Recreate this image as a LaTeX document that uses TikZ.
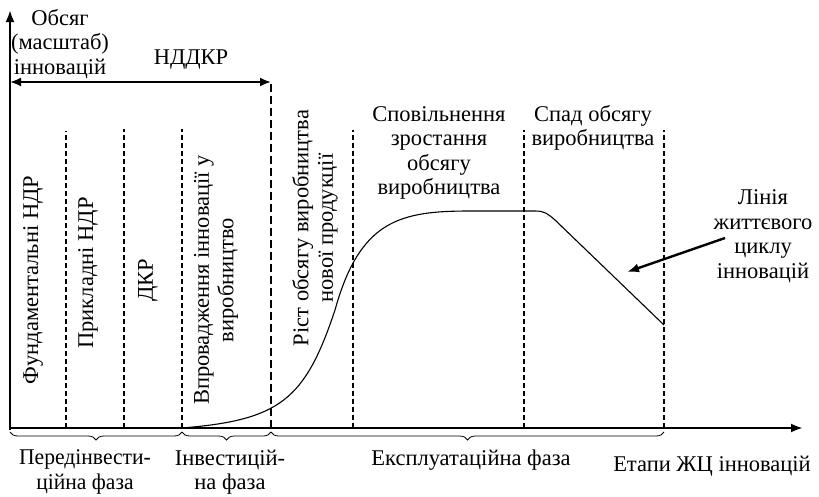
\documentclass[tikz,border=0pt]{standalone}
\usepackage{fontspec}
\setmainfont{Liberation Serif}
\usetikzlibrary{arrows.meta,decorations.pathreplacing}

\begin{document}
\begin{tikzpicture}[x=1pt,y=-1pt,
    axis/.style={line width=2.6pt,-{Latex[length=12pt,width=9pt]}},
    stage/.style={line width=1.5pt,dash pattern=on 5pt off 3pt},
    txt/.style={font=\fontsize{22.5}{24.5}\selectfont,align=center,inner sep=0pt},
    vtxt/.style={txt,rotate=90},
    phase/.style={decorate,decoration={brace,mirror,amplitude=8pt},line width=0.8pt}]
    \useasboundingbox (0,0) rectangle (819,496);

    % Define the points of the axes
    \coordinate (O) at (10,428);
    \coordinate (Y) at (10,10);
    \coordinate (X) at (803,428);

    % Stage boundaries on the time axis
    \coordinate (A) at (66,428);
    \coordinate (B) at (124,428);
    \coordinate (C) at (182,428);
    \coordinate (D) at (271,428);
    \coordinate (E) at (353,428);
    \coordinate (F) at (524,428);
    \coordinate (G) at (664,428);

    % Draw the stage boundaries
    \draw[stage] (A) -- (66,131);
    \draw[stage] (B) -- (124,129);
    \draw[stage] (C) -- (182,129);
    \draw[stage,dash pattern=on 8pt off 4pt] (D) -- (271,82);
    \draw[stage] (E) -- (353,130);
    \draw[stage] (F) -- (524,130);
    \draw[stage] (G) -- (664,130);

    % Draw the axes
    \draw[axis] (10,430) -- (Y);
    \draw[axis] (O) -- (X);

    % R&D span
    \coordinate (R1) at (10,82);
    \coordinate (R2) at (271,82);
    \draw[line width=2pt,{Latex[length=11pt,width=9pt]}-{Latex[length=11pt,width=9pt]}] (R1) -- (R2);
    \node[txt] (rd) at (191,60) {НДДКР};

    % Axis labels
    \node[txt] (vol) at (60,44) {Обсяг\\(масштаб)\\інновацій};
    \node[txt] (stg) at (712,466) {Етапи ЖЦ інновацій};

    % Life cycle curve
    \draw[line width=1.1pt] (C) .. controls (280,420) and (305,400) .. (335,310)
        .. controls (360,220) and (400,211) .. (470,211) -- (535,211)
        .. controls (545,211) and (548,214) .. (555,220) -- (664,325);

    % Stage names
    \node[vtxt] (fund) at (33,280) {Фундаментальні НДР};
    \node[vtxt] (appl) at (88,273) {Прикладні НДР};
    \node[vtxt] (dkr) at (148,280) {ДКР};
    \node[vtxt] (impl) at (216,280) {Впровадження інновації у\\виробництво};
    \node[vtxt] (grow) at (315,228) {Ріст обсягу виробництва\\нової продукції};
    \node[txt] (slow) at (439,153) {Сповільнення\\зростання\\обсягу\\виробництва};
    \node[txt] (fall) at (593,128) {Спад обсягу\\виробництва};

    % Pointer to the curve
    \node[txt] (line) at (763,236) {Лінія\\життєвого\\циклу\\інновацій};
    \coordinate (P) at (627,272);
    \draw[line width=2.4pt,-{Latex[length=12pt,width=9pt]}] (725,238) -- (P);

    % Phases
    \draw[phase] (10,432) -- (182,432);
    \draw[phase] (182,432) -- (271,432);
    \draw[phase] (271,432) -- (664,432);
    \node[txt,xscale=0.96] (pre) at (85,472) {Передінвести-\\ційна фаза};
    \node[txt] (inv) at (230,472) {Інвестицій-\\на фаза};
    \node[txt] (exp) at (471,460) {Експлуатаційна фаза};
\end{tikzpicture}
\end{document}
